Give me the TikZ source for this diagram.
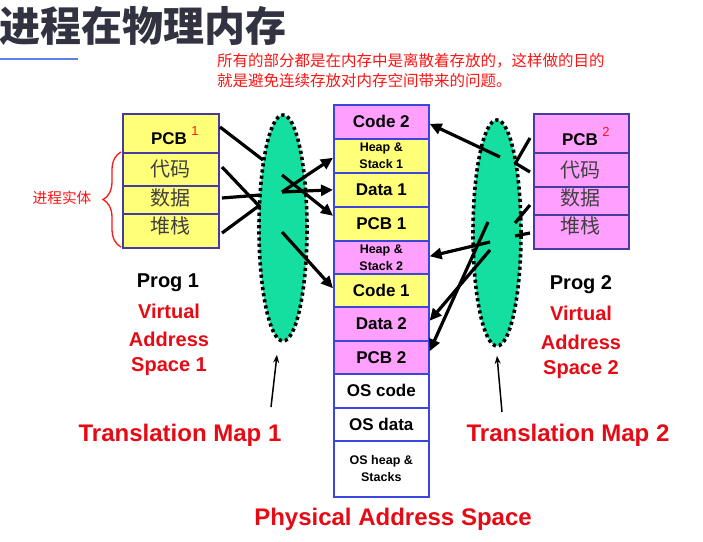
\documentclass[tikz,border=0pt]{standalone}
\usepackage{fontspec}
\setmainfont{Liberation Sans}
\newfontfamily\cjk{Noto Sans CJK SC}
\usetikzlibrary{arrows.meta,decorations.pathreplacing,shapes.geometric,calc}
\definecolor{yel}{RGB}{255,255,120}
\definecolor{pnk}{RGB}{255,160,255}
\definecolor{membd}{RGB}{60,70,220}
\definecolor{progbd}{RGB}{70,60,160}
\definecolor{grn}{RGB}{20,222,160}
\definecolor{lred}{RGB}{230,10,20}
\definecolor{ared}{RGB}{255,20,20}
\definecolor{ttl}{RGB}{50,50,65}
\definecolor{bline}{RGB}{90,130,230}
\begin{document}
\begin{tikzpicture}[x=1pt,y=-1pt,
 box/.style={draw=progbd, line width=1.5pt, minimum width=96pt, inner sep=0pt, anchor=north west},
 mem/.style={draw=membd, line width=1.6pt, minimum width=95pt, inner sep=0pt, anchor=north west, align=center},
 memlab/.style={font=\bfseries\fontsize{17}{17}\selectfont},
 memsmall/.style={font=\bfseries\fontsize{12.5}{17}\selectfont},
 cjklab/.style={font=\cjk\fontsize{20}{20}\selectfont, text=black!75},
 pcblab/.style={font=\bfseries\fontsize{17}{17}\selectfont},
 suplab/.style={text=ared, font=\fontsize{13}{13}\selectfont},
 big/.style={font=\bfseries\fontsize{24}{24}\selectfont, text=lred},
 mid/.style={font=\bfseries\fontsize{20}{20}\selectfont},
 map/.style={ellipse, fill=grn, draw=black, line width=3.6pt, dash pattern=on 3.2pt off 3pt, minimum width=48pt, minimum height=226pt, inner sep=0pt},
 link/.style={line width=3.2pt, black},
 arr/.style={link, -{Triangle[length=12pt,width=11pt]}},
 pointer/.style={line width=1.5pt, -{Stealth[length=8pt,width=6pt]}},
]
\useasboundingbox (0,0) rectangle (703,541);

% title
\node[anchor=west, inner sep=0pt, font=\cjk\bfseries\fontsize{41}{41}\selectfont, text=ttl] (title) at (-1,26) {进程在物理内存};
\draw[line width=1.5pt, bline] (0,59) -- (78,59);
\node[anchor=west, inner sep=0pt, text=ared, font=\cjk\fontsize{15.5}{15.5}\selectfont] (note1) at (217,61) {所有的部分都是在内存中是离散着存放的，这样做的目的};
\node[anchor=west, inner sep=0pt, text=ared, font=\cjk\fontsize{15.5}{15.5}\selectfont] (note2) at (217,81) {就是避免连续存放对内存空间带来的问题。};

% translation maps
\node[map] (map1) at (283,228) {};
\node[map] (map2) at (497,233) {};

% memory column
\node[mem, fill=pnk, minimum height=34pt, memlab] (code2) at (333,104) {Code 2};
\node[mem, fill=yel, minimum height=34pt, memsmall] (hs1) at (333,138) {Heap \&\\Stack 1};
\node[mem, fill=yel, minimum height=34pt, memlab] (data1) at (333,172) {Data 1};
\node[mem, fill=yel, minimum height=34pt, memlab] (pcb1) at (333,206) {PCB 1};
\node[mem, fill=pnk, minimum height=33pt, memsmall] (hs2) at (333,240) {Heap \&\\Stack 2};
\node[mem, fill=yel, minimum height=33pt, memlab] (code1) at (333,273) {Code 1};
\node[mem, fill=pnk, minimum height=34pt, memlab] (data2) at (333,306) {Data 2};
\node[mem, fill=pnk, minimum height=33pt, memlab] (pcb2) at (333,340) {PCB 2};
\node[mem, fill=white, minimum height=34pt, memlab] (oscode) at (333,373) {OS code};
\node[mem, fill=white, minimum height=33pt, memlab] (osdata) at (333,407) {OS data};
\node[mem, fill=white, minimum height=56pt, memsmall] (osheap) at (333,440) {OS heap \&\\Stacks};

% program 1
\node[box, fill=yel, minimum height=39pt] (p1pcb) at (122,113) {};
\node[box, fill=yel, minimum height=33pt] (p1code) at (122,152) {};
\node[box, fill=yel, minimum height=28pt] (p1data) at (122,185) {};
\node[box, fill=yel, minimum height=34pt] (p1stack) at (122,213) {};
\node[pcblab] (p1pcbt) at (169,139) {PCB};
\node[suplab] (p1sup) at (195,131) {1};
\node[cjklab] (p1codet) at (170,169) {代码};
\node[cjklab] (p1datat) at (170,198) {数据};
\node[cjklab] (p1stackt) at (170,226) {堆栈};

% program 2
\node[box, fill=pnk, minimum width=95pt, minimum height=39pt] (p2pcb) at (533,113) {};
\node[box, fill=pnk, minimum width=95pt, minimum height=34pt] (p2code) at (533,152) {};
\node[box, fill=pnk, minimum width=95pt, minimum height=28pt] (p2data) at (533,186) {};
\node[box, fill=pnk, minimum width=95pt, minimum height=34pt] (p2stack) at (533,214) {};
\node[pcblab] (p2pcbt) at (580,140) {PCB};
\node[suplab] (p2sup) at (606,132) {2};
\node[cjklab] (p2codet) at (580,170) {代码};
\node[cjklab] (p2datat) at (580,198) {数据};
\node[cjklab] (p2stackt) at (580,226) {堆栈};

% brace
\coordinate (brb) at (121,247);
\coordinate (brt) at (121,152);
\draw[ared, line width=1.3pt, decorate, decoration={brace, amplitude=18pt}] (brb) -- (brt);
\node[text=ared, font=\cjk\fontsize{14.7}{14.7}\selectfont] (entity) at (62,198) {进程实体};

% left mapping
\coordinate (l1a) at (220,127); \coordinate (l1b) at (263,160);
\coordinate (l2a) at (222,167); \coordinate (l2b) at (260,207);
\coordinate (l3a) at (222,198); \coordinate (l3b) at (260,195);
\coordinate (l4a) at (222,233); \coordinate (l4b) at (260,205);
\draw[link] (l1a) -- (l1b);
\draw[link] (l2a) -- (l2b);
\draw[link] (l3a) -- (l3b);
\draw[link] (l4a) -- (l4b);
\coordinate (a1) at (282,175);
\coordinate (a2) at (282,232);
\coordinate (a3) at (282,192);
\draw[arr] (a1) -- ($(pcb1.west)+(0,-8)$);
\draw[arr] (a2) -- ($(code1.west)+(0,-2)$);
\draw[arr] (a3) -- (data1.west);
\draw[arr] (a3) -- ($(hs1.west)+(0,2)$);

% right mapping
\coordinate (r1a) at (530,138); \coordinate (r1b) at (515,164);
\coordinate (r2a) at (530,172); \coordinate (r2b) at (515,163);
\coordinate (r3a) at (530,205); \coordinate (r3b) at (515,223);
\coordinate (r4a) at (530,233); \coordinate (r4b) at (515,236);
\draw[link] (r1a) -- (r1b);
\draw[link] (r2a) -- (r2b);
\draw[link] (r3a) -- (r3b);
\draw[link] (r4a) -- (r4b);
\coordinate (b1) at (500,157);
\coordinate (b2) at (490,242);
\coordinate (b3) at (488,222);
\coordinate (b4) at (490,250);
\draw[arr] (b1) -- ($(code2.east)+(0,2)$);
\draw[arr] (b2) -- ($(hs2.east)+(0,-1)$);
\draw[arr] (b3) -- ($(pcb2.east)+(0,-6)$);
\draw[arr] (b4) -- ($(data2.east)+(0,-3)$);

% program labels
\node[mid] (prog1) at (168,283) {Prog 1};
\node[mid, text=lred] (virt1) at (169,311) {Virtual};
\node[mid, text=lred] (addr1) at (169,339) {Address};
\node[mid, text=lred] (spc1) at (169,367) {Space 1};
\node[mid] (prog2) at (581,285) {Prog 2};
\node[mid, text=lred] (virt2) at (581,313) {Virtual};
\node[mid, text=lred] (addr2) at (581,342) {Address};
\node[mid, text=lred] (spc2) at (581,370) {Space 2};

% bottom labels
\node[big] (tm1) at (180,435) {Translation Map 1};
\node[big] (tm2) at (568,435) {Translation Map 2};
\node[big] (phys) at (393,519) {Physical Address Space};
\coordinate (tm1p) at (271,407);
\coordinate (tm2p) at (502,412);
\draw[pointer] (tm1p) -- ($(map1.south)+(-6,12)$);
\draw[pointer] (tm2p) -- ($(map2.south)+(0,8)$);
\end{tikzpicture}
\end{document}
